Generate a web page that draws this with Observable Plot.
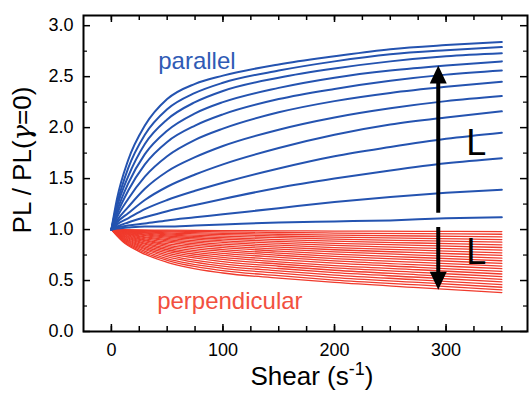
<!DOCTYPE html>
<html>
<head>
<meta charset="utf-8">
<script src="https://cdn.jsdelivr.net/npm/d3@7"></script>
<script src="https://cdn.jsdelivr.net/npm/@observablehq/plot@0.6"></script>
<style>
  html, body { margin: 0; padding: 0; background: #fff; }
  svg { display: block; }
</style>
</head>
<body>
<div id="chart"></div>
<script>
// ---- Data ----
const parallelX = [0, 5, 15, 30, 50, 75, 100, 150, 200, 250, 300, 350];
const parallel1  = [1.00,1.30,1.68,2.02,2.28,2.43,2.51,2.62,2.70,2.77,2.81,2.84];
const parallel2  = [1.00,1.25,1.60,1.93,2.18,2.34,2.44,2.56,2.65,2.72,2.76,2.79];
const parallel3  = [1.00,1.22,1.52,1.84,2.08,2.25,2.36,2.49,2.58,2.65,2.70,2.73];
const parallel4  = [1.00,1.18,1.45,1.74,1.97,2.14,2.25,2.39,2.49,2.56,2.61,2.65];
const parallel5  = [1.00,1.15,1.38,1.64,1.86,2.02,2.13,2.28,2.38,2.46,2.52,2.56];
const parallel6  = [1.00,1.12,1.30,1.52,1.72,1.88,1.99,2.15,2.26,2.34,2.40,2.45];
const parallel7  = [1.00,1.09,1.22,1.40,1.57,1.71,1.82,1.98,2.10,2.19,2.26,2.31];
const parallel8  = [1.00,1.07,1.16,1.29,1.42,1.54,1.64,1.80,1.93,2.03,2.10,2.16];
const parallel9  = [1.00,1.05,1.11,1.20,1.29,1.38,1.46,1.60,1.72,1.81,1.89,1.95];
const parallel10 = [1.00,1.03,1.07,1.12,1.18,1.24,1.30,1.41,1.50,1.58,1.65,1.70];
const parallel11 = [1.00,1.02,1.04,1.06,1.09,1.12,1.15,1.21,1.27,1.32,1.36,1.39];
const parallel12 = [1.00,1.01,1.02,1.03,1.03,1.04,1.05,1.07,1.08,1.09,1.11,1.12];
const parallelSeries = [parallel1, parallel2, parallel3, parallel4, parallel5, parallel6,
  parallel7, parallel8, parallel9, parallel10, parallel11, parallel12];

const perpX = [0, 10, 25, 50, 100, 150, 200, 275, 350];
const perp1  = [1.00,0.998,0.997,0.994,0.990,0.988,0.985,0.983,0.980];
const perp2  = [1.00,0.996,0.992,0.986,0.978,0.971,0.966,0.960,0.954];
const perp3  = [1.00,0.994,0.987,0.977,0.964,0.954,0.946,0.937,0.928];
const perp4  = [1.00,0.991,0.981,0.968,0.950,0.937,0.926,0.914,0.902];
const perp5  = [1.00,0.988,0.975,0.958,0.936,0.920,0.906,0.891,0.876];
const perp6  = [1.00,0.984,0.969,0.948,0.921,0.902,0.886,0.868,0.850];
const perp7  = [1.00,0.981,0.962,0.937,0.906,0.884,0.865,0.845,0.824];
const perp8  = [1.00,0.977,0.955,0.926,0.890,0.866,0.844,0.821,0.798];
const perp9  = [1.00,0.973,0.947,0.914,0.874,0.847,0.823,0.798,0.772];
const perp10 = [1.00,0.969,0.939,0.902,0.857,0.828,0.802,0.774,0.746];
const perp11 = [1.00,0.964,0.930,0.889,0.840,0.808,0.781,0.750,0.720];
const perp12 = [1.00,0.959,0.922,0.876,0.822,0.788,0.759,0.726,0.694];
const perp13 = [1.00,0.954,0.912,0.862,0.804,0.768,0.737,0.702,0.668];
const perp14 = [1.00,0.949,0.903,0.848,0.786,0.748,0.715,0.678,0.642];
const perp15 = [1.00,0.944,0.893,0.833,0.767,0.727,0.692,0.654,0.616];
const perp16 = [1.00,0.938,0.882,0.818,0.747,0.706,0.670,0.630,0.590];
const perp17 = [1.00,0.932,0.871,0.802,0.727,0.684,0.647,0.606,0.564];
const perp18 = [1.00,0.925,0.860,0.786,0.707,0.662,0.624,0.581,0.538];
const perp19 = [1.00,0.919,0.848,0.770,0.686,0.640,0.601,0.556,0.512];
const perp20 = [1.00,0.912,0.836,0.752,0.664,0.618,0.577,0.532,0.486];
const perp21 = [1.00,0.905,0.824,0.735,0.642,0.595,0.553,0.507,0.460];
const perp22 = [1.00,0.898,0.811,0.716,0.620,0.572,0.529,0.482,0.434];
const perp23 = [1.00,0.890,0.797,0.698,0.597,0.548,0.505,0.457,0.408];
const perp24 = [1.00,0.883,0.784,0.679,0.574,0.524,0.481,0.431,0.382];
const perpSeries = [perp1, perp2, perp3, perp4, perp5, perp6, perp7, perp8, perp9, perp10,
  perp11, perp12, perp13, perp14, perp15, perp16, perp17, perp18, perp19, perp20,
  perp21, perp22, perp23, perp24];

const xTickLabels = [0, 100, 200, 300];
const xMinorTicks = [0, 25, 50, 75, 100, 125, 150, 175, 200, 225, 250, 275, 300, 325, 350];
const yTickLabels = [0, 0.5, 1.0, 1.5, 2.0, 2.5, 3.0];
const yMinorTicks = [0.25, 0.75, 1.25, 1.75, 2.25, 2.75];

const arrowX = 293;
const arrowUp = [1.16, 2.45, 2.61];   // shaft start, shaft end, tip
const arrowDown = [1.02, 0.57, 0.41];

const labels = [
  {text: "parallel", x: 42, y: 2.655, color: "#2f5bb5", size: 24},
  {text: "perpendicular", x: 41, y: 0.30, color: "#f2503f", size: 24},
  {text: "L", x: 318, y: 1.846, color: "#000", size: 36},
  {text: "L", x: 318, y: 0.776, color: "#000", size: 36}
];

// ---- Build tables ----
const parallelData = parallelSeries.flatMap((s, i) => s.map((v, j) => ({series: i, x: parallelX[j], y: v})));
const perpData = perpSeries.flatMap((s, i) => s.map((v, j) => ({series: i, x: perpX[j], y: v})));

const headSymbol = {
  draw(context) {
    context.moveTo(0, 0);
    context.lineTo(8.5, 18);
    context.lineTo(-8.5, 18);
    context.closePath();
  }
};

const W = 529, H = 393;
const PW = W - 83 - 2, PH = 331 - 15;

const chart = Plot.plot({
  width: W,
  height: H,
  marginLeft: 83,
  marginRight: 2,
  marginTop: 15,
  marginBottom: H - 331,
  style: {fontFamily: "'Liberation Sans', Arial, sans-serif", background: "#fff", color: "#000"},
  x: {domain: [-25, 373]},
  y: {domain: [0, 3.1]},
  marks: [
    Plot.line(perpData, {x: "x", y: "y", z: "series", stroke: "#f03a2c", strokeWidth: 1.3, curve: "monotone-x"}),
    Plot.line(parallelData, {x: "x", y: "y", z: "series", stroke: "#2453b0", strokeWidth: 2, curve: "monotone-x"}),
    // arrows
    Plot.ruleX([arrowX], {y1: arrowUp[0], y2: arrowUp[1], stroke: "black", strokeWidth: 4}),
    Plot.dot([arrowX], {x: d => d, y: arrowUp[2], symbol: headSymbol, r: 8, fill: "black", stroke: null}),
    Plot.ruleX([arrowX], {y1: arrowDown[0], y2: arrowDown[1], stroke: "black", strokeWidth: 4}),
    Plot.dot([arrowX], {x: d => d, y: arrowDown[2], symbol: headSymbol, r: 8, rotate: 180, fill: "black", stroke: null}),
    // labels
    Plot.text(labels, {x: "x", y: "y", text: "text", fill: "color", fontSize: d => d.size, textAnchor: "start"}),
    // ticks (inward, on all four sides)
    Plot.tickX(xMinorTicks, {x: d => d, insetTop: PH - 5, stroke: "black", strokeWidth: 1.5}),
    Plot.tickX(xMinorTicks, {x: d => d, insetBottom: PH - 5, stroke: "black", strokeWidth: 1.5}),
    Plot.tickX(xTickLabels, {x: d => d, insetTop: PH - 7, stroke: "black", strokeWidth: 1.5}),
    Plot.tickX(xTickLabels, {x: d => d, insetBottom: PH - 7, stroke: "black", strokeWidth: 1.5}),
    Plot.tickY(yMinorTicks, {y: d => d, insetRight: PW - 4, stroke: "black", strokeWidth: 1.2}),
    Plot.tickY(yMinorTicks, {y: d => d, insetLeft: PW - 4, stroke: "black", strokeWidth: 1.2}),
    Plot.tickY(yTickLabels, {y: d => d, insetRight: PW - 7, stroke: "black", strokeWidth: 1.5}),
    Plot.tickY(yTickLabels, {y: d => d, insetLeft: PW - 7, stroke: "black", strokeWidth: 1.5}),
    Plot.axisX({ticks: xTickLabels, tickSize: 0, tickPadding: 12, fontSize: 18, label: null}),
    Plot.axisY({ticks: yTickLabels, tickSize: 0, tickPadding: 10, fontSize: 18, tickFormat: ".1f", label: null}),
    Plot.frame({stroke: "black", strokeWidth: 2})
  ]
});

document.getElementById("chart").appendChild(chart);

// axis titles with superscript / italic as real text
const svg = d3.select(chart);
const xt = svg.append("text")
  .attr("x", 312).attr("y", 385)
  .attr("text-anchor", "middle")
  .attr("font-size", 26)
  .attr("font-family", "'Liberation Sans', Arial, sans-serif")
  .attr("fill", "black");
xt.append("tspan").text("Shear (s");
xt.append("tspan").attr("font-size", 18).attr("dy", -10).text("-1");
xt.append("tspan").attr("dy", 10).text(")");

const yt = svg.append("text")
  .attr("transform", "translate(31,160) rotate(-90)")
  .attr("text-anchor", "middle")
  .attr("font-size", 26)
  .attr("font-family", "'Liberation Sans', Arial, sans-serif")
  .attr("fill", "black");
yt.append("tspan").text("PL / PL(");
yt.append("tspan").attr("font-style", "italic").attr("font-family", "'DejaVu Serif', serif").text("γ");
yt.append("tspan").text("=0)");
</script>
</body>
</html>
